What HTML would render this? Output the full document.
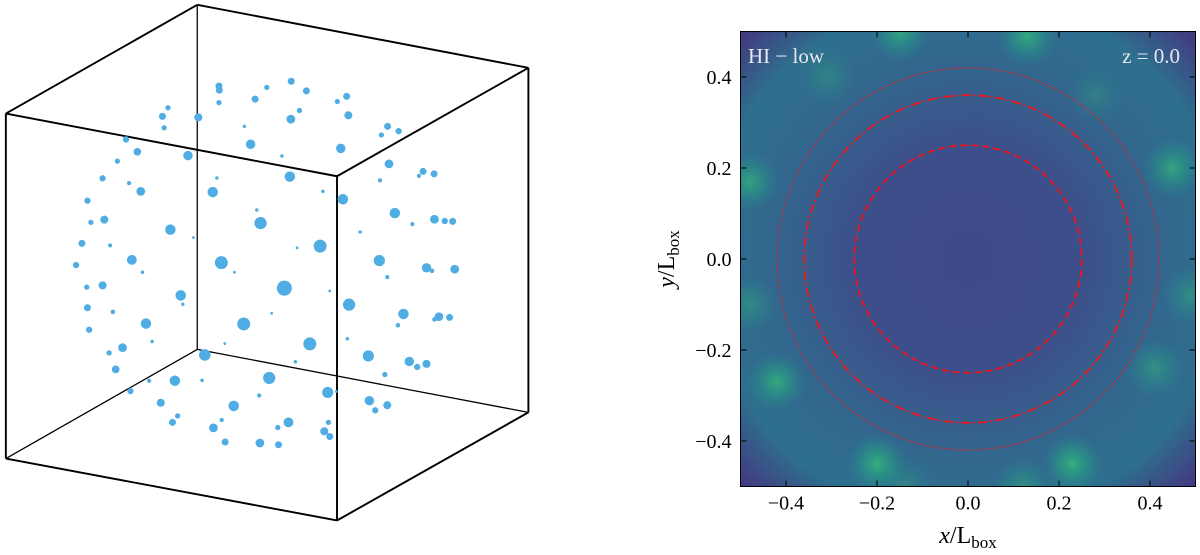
<!DOCTYPE html>
<html><head><meta charset="utf-8"><style>
html,body{margin:0;padding:0;background:#fff;}
svg{display:block;font-family:"Liberation Serif",serif;}
</style></head><body>
<svg id="root" width="1200" height="555" viewBox="0 0 1200 555">
<defs>
<radialGradient id="bg" cx="0.5" cy="0.5" r="0.72">
<stop offset="0" stop-color="#3e4a89"/><stop offset="0.35" stop-color="#3d4f8a"/>
<stop offset="0.6" stop-color="#32678e"/><stop offset="0.8" stop-color="#2e6f8e"/>
<stop offset="1" stop-color="#46317d"/></radialGradient>
<radialGradient id="blob"><stop offset="0" stop-color="#35b779" stop-opacity="0.95"/><stop offset="0.5" stop-color="#27a283" stop-opacity="0.55"/><stop offset="1" stop-color="#21918c" stop-opacity="0"/></radialGradient>
<clipPath id="pc"><rect x="740.5" y="31.5" width="455" height="455"/></clipPath>
</defs>
<g id="cube"></g>
<g id="dots"></g>
<g id="heat" clip-path="url(#pc)"></g>
<g id="axes"></g>
</svg>
<script>
const NS="http://www.w3.org/2000/svg";
function mk(t,a,p){const e=document.createElementNS(NS,t);for(const k in a)e.setAttribute(k,a[k]);p.appendChild(e);return e;}
const dotX=[636,637,775,846,890,1007,980,636,741,488,472,576,845,870,1012,477,710,1126,1158,1108,366,728,990,399,546,819,341,1130,1229,1261,1217,298,630,842,1104,375,409,618,938,996,254,1147,746,303,264,1262,1292,1315,1198,757,495,1046,562,238,320,930,863,383,643,1102,1239,1255,1321,221,414,681,1125,826,252,298,958,525,531,1014,254,328,789,1172,1275,1306,1262,424,708,1156,259,442,653,900,1009,356,317,595,1070,1189,1212,1239,858,336,1118,508,587,782,433,379,952,977,753,467,679,1073,1125,1090,516,501,644,838,954,807,620,942,958,654,755,809];
const dotY=[250,262,254,236,264,280,295,298,288,313,338,341,346,321,335,371,367,367,381,392,405,419,431,441,452,453,468,476,498,505,511,518,517,513,524,532,556,558,556,579,583,619,610,638,646,637,642,643,651,648,667,674,690,707,713,715,720,755,763,757,778,787,782,770,791,791,805,837,834,829,845,858,884,885,894,906,910,912,920,922,928,940,941,945,958,992,998,999,984,1010,1025,1031,1034,1050,1066,1057,1051,1073,1088,1106,1105,1098,1106,1136,1140,1137,1149,1170,1179,1164,1177,1192,1208,1227,1220,1227,1227,1242,1243,1253,1268,1284,1287,1292];
const dotS=[2,2,1.5,2,2,2,1.5,1.5,2,1.5,2,2.3,2.5,1.5,2.3,1.5,1,2,1.8,1.5,1.8,2.7,2.7,2.2,2.7,1,1.5,2.5,2,2,1.2,1.8,1,3,1.2,1.2,2.5,3,1,3,1.8,3,1,2.3,1.5,2.5,1.8,2,1.2,3.5,3,1,0.8,2,1.2,3.7,0.8,2.8,3.7,3.2,2.7,1.3,2.5,1.8,1,0.8,1.2,4.3,1.5,2.3,0.8,3,1,3.5,2,1.3,0.8,3,2.5,2,1.3,3,3.7,1.3,1.8,1,0.8,3.7,1,2.5,1.5,3.3,3.2,2.7,1.8,2.3,1,2.2,1.5,3,1,3.5,1.2,1.8,3.2,0.8,1.2,2.3,3,2.7,2.3,1.8,1.5,2,1.2,2.8,1.5,1.5,2.5,2.3,2,2,2.5,2];
const cubeX=[573,1535,17,979,573,17,979,1535];
const cubeY=[14,197,330,512,1015,1332,1512,1198];
const P=v=>v/2.905;
const cube=document.getElementById('cube');
const edges=[[0,1,1.2],[0,2,1.2],[1,3,1.2],[2,3,1.2],[0,4,0.8],[4,5,0.8],[4,7,0.8],[2,5,1.2],[3,6,1.2],[1,7,1.2],[5,6,1.2],[6,7,1.2]];
edges.forEach(e=>{const l=mk('line',{x1:P(cubeX[e[0]]),y1:P(cubeY[e[0]]),x2:P(cubeX[e[1]]),y2:P(cubeY[e[1]]),stroke:'#000','stroke-width':e[2]*1.6},cube);

});
const dots=document.getElementById('dots');
dotX.forEach((x,i)=>{const c=mk('circle',{cx:P(x),cy:P(dotY[i]),r:dotS[i]*1.75,fill:'#4fade3'},dots);

});
const L=740.5,T=31.5,W=455;
const sx=v=>L+(v+0.5)*W, sy=v=>T+(0.5-v)*W, sr=v=>v*W;
const blobX=[-0.15,0.13,-0.31,0.45,-0.48,-0.48,-0.42,-0.2,0.23,0.41,0.49,0.12,-0.14,0.28];
const blobY=[0.5,0.49,0.4,0.2,0.17,-0.1,-0.27,-0.45,-0.45,-0.24,-0.08,-0.5,-0.5,0.36];
const blobA=[0.8,0.85,0.35,0.8,0.75,0.45,0.85,0.95,0.95,0.55,0.5,0.5,0.35,0.3];
const ringR=[0.25,0.36,0.42];
const ringDash=['7,4','9,3,2,3','1.3,2'];
const heat=document.getElementById('heat');
mk('rect',{x:L,y:T,width:W,height:W,fill:'url(#bg)'},heat);
blobX.forEach((x,i)=>{const b=mk('circle',{cx:sx(x),cy:sy(blobY[i]),r:30,fill:'url(#blob)',opacity:blobA[i]},heat);

});
ringR.forEach((r,i)=>{const c=mk('circle',{cx:sx(0),cy:sy(0),r:sr(r),fill:'none',stroke:'#ff1010','stroke-width':i==2?1.3:1.7,'stroke-dasharray':ringDash[i]},heat);

});
const ax=document.getElementById('axes');
mk('rect',{x:L,y:T,width:W,height:W,fill:'none',stroke:'#000','stroke-width':1},ax);
const ticks=[-0.4,-0.2,0,0.2,0.4];
const tickLbl=['\u22120.4','\u22120.2','0.0','0.2','0.4'];
ticks.forEach((t,i)=>{
 mk('line',{x1:sx(t),y1:T+W,x2:sx(t),y2:T+W-6,stroke:'#000'},ax);
 mk('line',{x1:sx(t),y1:T,x2:sx(t),y2:T+6,stroke:'#000'},ax);
 mk('line',{x1:L,y1:sy(t),x2:L+6,y2:sy(t),stroke:'#000'},ax);
 mk('line',{x1:L+W,y1:sy(t),x2:L+W-6,y2:sy(t),stroke:'#000'},ax);
 const tx=mk('text',{x:sx(t),y:T+W+23,'text-anchor':'middle','font-size':20},ax);tx.textContent=tickLbl[i];
 
 
 const ty=mk('text',{x:L-9,y:sy(t)+7,'text-anchor':'end','font-size':20},ax);ty.textContent=tickLbl[i];
 
 
});
const xl=mk('text',{x:sx(0),y:543,'text-anchor':'middle','font-size':24},ax);
xl.innerHTML='<tspan font-style="italic">x</tspan>/L<tspan font-size="17" dy="5">box</tspan>';


const yl=mk('text',{x:0,y:0,'text-anchor':'middle','font-size':24,transform:`translate(674,${sy(0)}) rotate(-90)`},ax);
yl.innerHTML='<tspan font-style="italic">y</tspan>/L<tspan font-size="17" dy="5">box</tspan>';


const t1=mk('text',{x:748,y:63,'font-size':21,fill:'#e8e8f0'},ax);t1.textContent='HI \u2212 low';


const t2=mk('text',{x:1180,y:63,'font-size':21,fill:'#e8e8f0','text-anchor':'end'},ax);t2.textContent='z = 0.0';


</script>
</body></html>
